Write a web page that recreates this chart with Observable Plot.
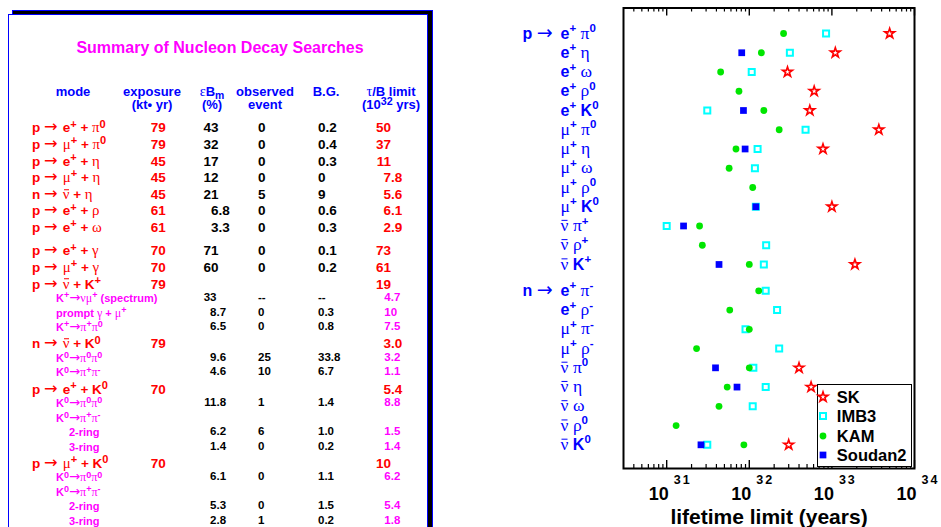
<!DOCTYPE html>
<html><head><meta charset="utf-8">
<script src="https://cdn.jsdelivr.net/npm/d3@7"></script>
<script src="https://cdn.jsdelivr.net/npm/@observablehq/plot@0.6"></script>
<style>
html,body{margin:0;padding:0;background:#fff;overflow:hidden;}
#wrap{position:relative;width:941px;height:527px;overflow:hidden;font-family:"Liberation Sans",Arial,sans-serif;}
#chart{position:absolute;left:0;top:0;}
#shadow{position:absolute;left:12px;top:10px;width:421px;height:600px;background:#000;border:1px solid #00f;box-sizing:border-box;}
#panel{position:absolute;left:7.5px;top:14px;width:420px;height:600px;background:#fff;border:1.5px solid #00f;box-sizing:border-box;}
.cell{position:absolute;white-space:nowrap;line-height:1;transform:translateY(-50%);font-weight:bold;}
.ctr{transform:translate(-50%,-50%);}
.g{font-family:"Liberation Serif","Times New Roman",serif;font-weight:normal;font-size:1.1em;line-height:0;}
.arr{font-family:"DejaVu Sans",sans-serif;font-weight:normal;font-size:1.2em;line-height:0;}
.bar{position:relative;}
.bar::before{content:"";position:absolute;left:0.06em;right:0.06em;top:0.2em;border-top:1px solid currentColor;}
.sup{position:relative;top:-0.42em;font-size:0.82em;line-height:0;}
.sub{position:relative;top:0.3em;font-size:0.8em;line-height:0;}
#legend{position:absolute;left:816.5px;top:384px;width:95px;height:83px;border:1.5px solid #000;background:#fff;box-sizing:border-box;}
#legend .it{position:absolute;font-weight:bold;font-size:16.5px;line-height:1;transform:translateY(-50%);color:#000;}
#legend svg{position:absolute;overflow:visible;}
</style>
</head><body>
<div id="wrap">
  <div id="chart"></div>
  <div id="shadow"></div>
  <div id="panel"></div>
  <div id="legend"></div>
</div>
<script>
// ---------------- DATA: table ----------------
const tableTitle = "Summary of Nucleon Decay Searches";
const tableHeaders = [
  ["mode", ""],
  ["exposure", "(kt• yr)"],
  ["εB_m", "(%)"],
  ["observed", "event"],
  ["B.G.", ""],
  ["τ/B limit", "(10^{32} yrs)"]
];
const tableModes = [
  "p → e^+ + π^0", "p → μ^+ + π^0", "p → e^+ + η", "p → μ^+ + η", "n → ~ν + η",
  "p → e^+ + ρ", "p → e^+ + ω",
  "p → e^+ + γ", "p → μ^+ + γ", "p → ~ν + K^+",
  "K^+→νμ^+ (spectrum)", "prompt γ + μ^+", "K^+→π^+π^0",
  "n → ~ν + K^0", "K^0→π^0π^0", "K^0→π^+π^-",
  "p → e^+ + K^0", "K^0→π^0π^0", "K^0→π^+π^-", "2-ring", "3-ring",
  "p → μ^+ + K^0", "K^0→π^0π^0", "K^0→π^+π^-", "2-ring", "3-ring"
];
const tableLevel = [0,0,0,0,0,0,0, 0,0,0,1,1,1, 0,1,1, 0,1,1,2,2, 0,1,1,2,2];
const tableExposure = ["79","79","45","45","45","61","61","70","70","79","","","","79","","","70","","","","","70","","","",""];
const tableEff = ["43","32","17","12","21","6.8","3.3","71","60","","33","8.7","6.5","","9.6","4.6","","11.8","","6.2","1.4","","6.1","","5.3","2.8"];
const tableObserved = ["0","0","0","0","5","0","0","0","0","","--","0","0","","25","10","","1","","6","0","","0","","0","1"];
const tableBG = ["0.2","0.4","0.3","0","9","0.6","0.3","0.1","0.2","","--","0.3","0.8","","33.8","6.7","","1.4","","1.0","0.2","","1.1","","1.5","0.2"];
const tableLimit = ["50","37","11","7.8","5.6","6.1","2.9","73","61","19","4.7","10","7.5","3.0","3.2","1.1","5.4","8.8","","1.5","1.4","10","6.2","","5.4","1.8"];

// ---------------- DATA: chart ----------------
const pModes = ["e^+ π^0","e^+ η","e^+ ω","e^+ ρ^0","e^+ K^0","μ^+ π^0","μ^+ η","μ^+ ω","μ^+ ρ^0","μ^+ K^0","~ν π^+","~ν ρ^+","~ν K^+"];
const nModes = ["e^+ π^-","e^+ ρ^-","μ^+ π^-","μ^+ ρ^-","~ν π^0","~ν η","~ν ω","~ν ρ^0","~ν K^0"];
const seriesNames = ["SK","IMB3","KAM","Soudan2"];
// lifetime limits in years, order = pModes then nModes (null = not measured)
const skValues      = [5.0e33,1.1e33,2.9e32,6.1e32,5.4e32,3.7e33,7.8e32,null,null,1.0e33,null,null,1.9e33,
                       null,null,null,null,4.0e32,5.6e32,null,null,3.0e32];
const imb3Values    = [8.5e32,3.1e32,1.07e32,null,3.1e31,4.8e32,1.26e32,1.17e32,null,1.2e32,1.0e31,1.6e32,1.5e32,
                       1.58e32,2.17e32,9.0e31,2.3e32,1.12e32,1.58e32,1.1e32,null,3.1e31];
const kamValues     = [2.6e32,1.4e32,4.5e31,7.5e31,1.5e32,2.3e32,6.9e31,5.7e31,1.1e32,null,2.5e31,2.7e31,1.0e32,
                       1.3e32,5.8e31,1.0e32,2.3e31,1.0e32,5.4e31,4.3e31,1.3e31,8.6e31];
const soudan2Values = [null,8.1e31,null,null,8.5e31,null,8.9e31,null,null,1.2e32,1.6e31,null,4.3e31,
                       null,null,null,null,3.9e31,7.1e31,null,null,2.6e31];
const majorTicks = [1e31,1e32,1e33,1e34];
const tickBase = "10";
const tickExponents = ["31","32","33","34"];
const xLabel = "lifetime limit (years)";
const groupNames = ["p","n"];

// ---------------- markup helpers ----------------
function charClass(c){ return c==="\u2192" ? "arr" : /[\u0370-\u03FF]/.test(c) ? "g" : "n"; }
function parseMarkup(s){
  const segs=[]; let i=0;
  while(i<s.length){
    const c=s[i];
    if(c==='^'||c==='_'){
      let t;
      if(s[i+1]==='{'){const j=s.indexOf('}',i);t=s.slice(i+2,j);i=j+1;}
      else {t=s[i+1];i+=2;}
      segs.push({t,sup:c==='^',sub:c==='_',cls:"n"});
    } else if(c==='~'){ segs.push({t:s[i+1],bar:true,cls:"g"}); i+=2; }
    else {
      const cls = c===" " ? null : charClass(c);
      const last=segs[segs.length-1];
      if(last && !last.sup && !last.sub && !last.bar && (cls===null || last.cls===cls)) last.t+=c;
      else segs.push({t:c,cls:cls||"n"});
      i++;
    }
  }
  return segs;
}
function toHTML(s){
  return parseMarkup(s).map(g=>{
    const t=g.t.replace(/&/g,"&amp;").replace(/</g,"&lt;");
    if(g.sup) return `<span class="sup">${t}</span>`;
    if(g.sub) return `<span class="sub">${t}</span>`;
    if(g.bar) return `<span class="g bar">${t}</span>`;
    if(g.cls==="g") return `<span class="g">${t}</span>`;
    if(g.cls==="arr") return `<span class="arr">${t}</span>`;
    return t;
  }).join("");
}
function toSVG(el, s, o){
  const NS="http://www.w3.org/2000/svg";
  const segs=parseMarkup(s);
  el.textContent="";
  let shift=0;
  for(const g of segs){
    const ts=document.createElementNS(NS,"tspan");
    const target = g.sup ? -o.rise : g.sub ? o.drop : 0;
    if(target!==shift){ ts.setAttribute("dy", target-shift); shift=target; }
    if(g.sup||g.sub) ts.setAttribute("font-size", o.supSize);
    if(g.cls==="g"){
      ts.setAttribute("font-family","'Liberation Serif','Times New Roman',serif");
      ts.setAttribute("font-weight","normal");
      ts.setAttribute("font-size", o.greekSize);
    }
    if(g.cls==="arr"){
      ts.setAttribute("font-family","'DejaVu Sans',sans-serif");
      ts.setAttribute("font-weight","normal");
      ts.setAttribute("font-size", o.arrowSize);
    }
    if(g.bar) ts.setAttribute("data-bar","1");
    ts.textContent=g.t;
    el.appendChild(ts);
  }
}

// ---------------- table (HTML) ----------------
const wrap=document.getElementById("wrap");
const PAGE_W=941;
function addCell(html, css, cls){
  const d=document.createElement("div");
  d.className="cell"+(cls?(" "+cls):"");
  d.innerHTML=html;
  Object.assign(d.style, css);
  wrap.appendChild(d);
  return d;
}
addCell(tableTitle,{left:"220px",top:"48.2px",fontSize:"16px",color:"#ff00ff"},"ctr");
const headerX=[73,152,212,265,326,391];
tableHeaders.forEach((h,k)=>{
  h.forEach((line,li)=>{
    if(!line) return;
    addCell(toHTML(line),{left:headerX[k]+"px",top:(li===0?90.5:104)+"px",fontSize:"13px",color:"#0000ff"},"ctr");
  });
});
// row vertical layout
const rowY=[]; {
  let y=128.3;
  tableLevel.forEach((lv,i)=>{
    if(i>0){
      const prev=tableLevel[i-1];
      if(lv===0) y += prev===0 ? 16.6 : 17.3;
      else y += prev===0 ? 13.5 : 14.5;
      if(i===7) y += 6.8;
    }
    rowY.push(y);
  });
}
function decimalAligned(val, xa, y, size, color){
  if(!val) return;
  const [ip,fp]=val.split(".");
  addCell(ip,{right:(PAGE_W-xa)+"px",top:y+"px",fontSize:size+"px",color});
  if(fp!==undefined) addCell("."+fp,{left:xa+"px",top:y+"px",fontSize:size+"px",color});
}
tableModes.forEach((m,i)=>{
  const lv=tableLevel[i], y=rowY[i];
  const main = lv===0;
  const numSize = main ? 13.5 : 11.5;
  addCell(toHTML(m),{left:(lv===0?32:lv===1?56:69)+"px",top:y+"px",fontSize:(main?13.5:11)+"px",color:main?"#ff0000":"#ff00ff"});
  if(tableExposure[i]) addCell(tableExposure[i],{left:"158.3px",top:y+"px",fontSize:numSize+"px",color:"#ff0000"},"ctr");
  decimalAligned(tableEff[i], main?218.5:216.5, y, numSize, "#000");
  if(tableObserved[i]) addCell(tableObserved[i],{left:"258px",top:y+"px",fontSize:numSize+"px",color:"#000"});
  if(tableBG[i]) addCell(tableBG[i],{left:"318px",top:y+"px",fontSize:numSize+"px",color:"#000"});
  if(tableLimit[i]){
    if(main) decimalAligned(tableLimit[i], 391, y, numSize, "#ff0000");
    else addCell(tableLimit[i],{left:"384.3px",top:y+"px",fontSize:numSize+"px",color:"#ff00ff"});
  }
});

// ---------------- chart (Plot) ----------------
const W=941, H=527, mL=623, mR=27, mT=7.5, mB=59;
const frameH=H-mT-mB;
const groupGap=0.37;
const rows=[
  ...pModes.map((m,i)=>({label:m,pos:i})),
  ...nModes.map((m,j)=>({label:m,pos:pModes.length+groupGap+j}))
];
const groups=[{name:groupNames[0],pos:0},{name:groupNames[1],pos:pModes.length+groupGap}];
const pts=vals=>rows.map((r,i)=>({pos:r.pos,value:vals[i]})).filter(d=>d.value!=null);
const xDomain=[3e30,1e34];
const minorTicks=[];
for(let e=30;e<=33;e++) for(let m=2;m<=9;m++){const v=m*Math.pow(10,e); if(v>xDomain[0]*1.01&&v<xDomain[1]) minorTicks.push(v);}

const style = {
  SK:{symbol:"star",r:3.1,stroke:"#ff0000",strokeWidth:1.6,fill:"none"},
  IMB3:{symbol:"square",r:3.4,stroke:"#00ffff",strokeWidth:2,fill:"none"},
  KAM:{symbol:"circle",r:3.4,fill:"#00e600"},
  Soudan2:{symbol:"square",r:3.8,fill:"#0000ff"}
};
const valuesBy={SK:skValues,IMB3:imb3Values,KAM:kamValues,Soudan2:soudan2Values};
const drawOrder=["IMB3","KAM","Soudan2","SK"];

const chart=Plot.plot({
  width:W,height:H,marginLeft:mL,marginRight:mR,marginTop:mT,marginBottom:mB,
  x:{type:"log",domain:xDomain,axis:null},
  y:{domain:[rows[rows.length-1].pos+1.23,-1.325],axis:null},
  style:{fontFamily:"'Liberation Sans', Arial, sans-serif",background:"white",overflow:"visible"},
  marks:[
    Plot.ruleX(minorTicks,{x:d=>d,insetBottom:frameH-4,stroke:"#000",strokeWidth:1.2}),
    Plot.ruleX(minorTicks,{x:d=>d,insetTop:frameH-4,stroke:"#000",strokeWidth:1.2}),
    Plot.ruleX(majorTicks,{x:d=>d,insetBottom:frameH-8,stroke:"#000",strokeWidth:1.4}),
    Plot.ruleX(majorTicks,{x:d=>d,insetTop:frameH-8,stroke:"#000",strokeWidth:1.4}),
    Plot.frame({stroke:"#000",strokeWidth:2}),
    ...drawOrder.map(n=>Plot.dot(pts(valuesBy[n]),{x:"value",y:"pos",...style[n]})),
    Plot.text(rows,{y:"pos",text:"label",frameAnchor:"left",lineAnchor:"middle",textAnchor:"start",dx:-63,fontSize:16,fontWeight:"bold",fill:"#0000ff"}),
    Plot.text(groups,{y:"pos",text:d=>d.name+" →",frameAnchor:"left",lineAnchor:"middle",textAnchor:"start",dx:-101,fontSize:16,fontWeight:"bold",fill:"#0000ff"}),
    Plot.text(majorTicks,{x:d=>d,text:()=>tickBase,frameAnchor:"bottom",lineAnchor:"middle",textAnchor:"end",dx:2,dy:25.5,fontSize:18,fontWeight:"bold",fill:"#000"}),
    Plot.text(majorTicks,{x:d=>d,text:(d,i)=>tickExponents[i],frameAnchor:"bottom",lineAnchor:"middle",textAnchor:"start",dx:7,dy:11.5,fontSize:12.5,fontWeight:"bold",fill:"#000"}),
    Plot.text([xLabel],{text:d=>d,frameAnchor:"bottom",lineAnchor:"middle",dy:48.5,fontSize:21,fontWeight:"bold",fill:"#000"})
  ]
});
document.getElementById("chart").appendChild(chart);
const svgNS="http://www.w3.org/2000/svg";
d3.select(chart).selectAll("text").each(function(){
  const s=this.textContent;
  if(/[\^~\u2192\u0370-\u03FF]/.test(s)) toSVG(this,s,{rise:6.5,drop:3,supSize:11.5,greekSize:17.5,arrowSize:19});
});
// overbars for anti-neutrinos
d3.select(chart).selectAll("tspan[data-bar]").each(function(){
  const text=this.parentNode;
  const bb=this.getBBox();
  const fs=17.5;
  const line=document.createElementNS(svgNS,"line");
  const y=bb.y+0.3*fs;
  line.setAttribute("x1",bb.x+1); line.setAttribute("x2",bb.x+bb.width-1);
  line.setAttribute("y1",y); line.setAttribute("y2",y);
  line.setAttribute("stroke","#0000ff"); line.setAttribute("stroke-width",1);
  const tr=text.getAttribute("transform"); if(tr) line.setAttribute("transform",tr);
  text.parentNode.appendChild(line);
});
d3.select(chart).selectAll("text").filter(function(){return tickExponents.includes(this.textContent);}).attr("letter-spacing",2);

// ---------------- legend ----------------
const legend=document.getElementById("legend");
const symType={star:d3.symbolStar,square:d3.symbolSquare,circle:d3.symbolCircle};
seriesNames.forEach((n,i)=>{
  const st=style[n], y=12.2+19.2*i;
  const svg=d3.create("svg").attr("width",1).attr("height",1).style("left","5.3px").style("top",y+"px");
  svg.append("path").attr("d",d3.symbol(symType[st.symbol],Math.PI*st.r*st.r)())
    .attr("fill",st.fill||"none").attr("stroke",st.stroke||"none").attr("stroke-width",st.strokeWidth||0);
  legend.appendChild(svg.node());
  const t=document.createElement("div"); t.className="it"; t.textContent=n;
  t.style.left="19.3px"; t.style.top=y+"px"; legend.appendChild(t);
});
</script>
</body></html>
